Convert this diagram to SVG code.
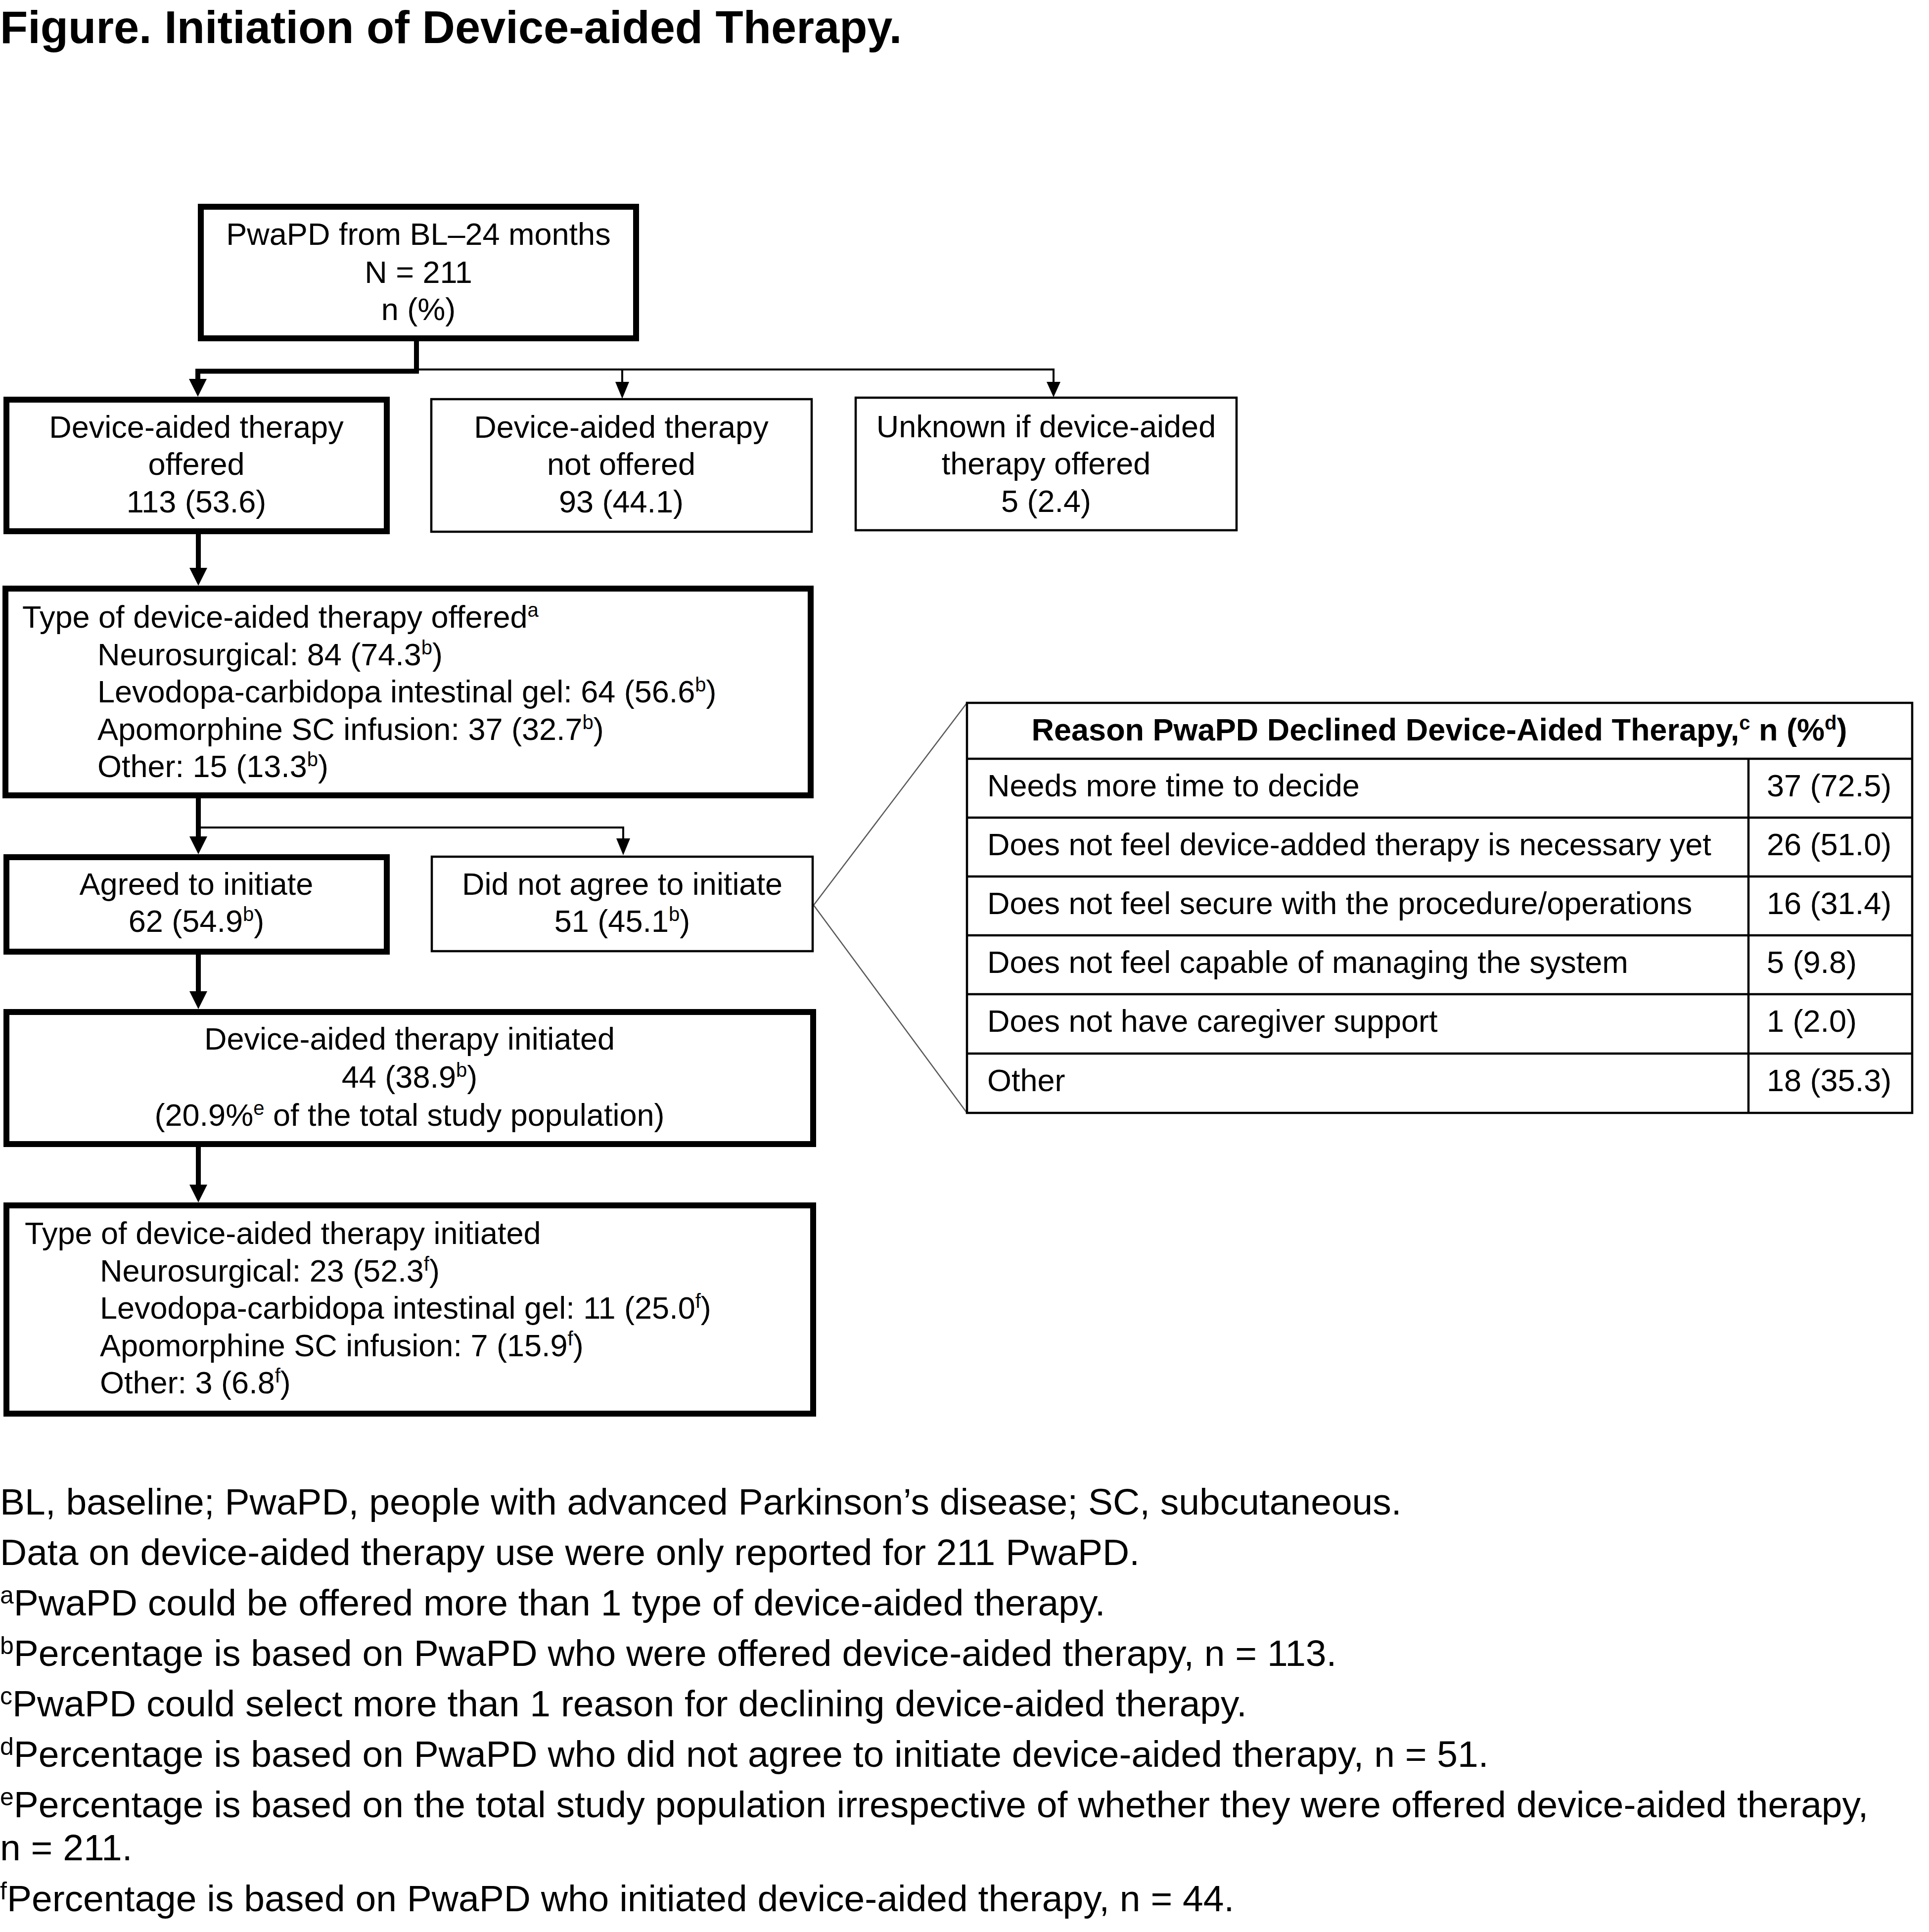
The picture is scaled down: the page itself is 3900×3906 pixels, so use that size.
<svg xmlns="http://www.w3.org/2000/svg" width="3900" height="3906" viewBox="0 0 3900 3906">
<style>
text { font-family: "Liberation Sans", Arial, sans-serif; fill: #000; }
.title { font-size: 92px; font-weight: bold; }
.t { font-size: 63px; }
.c { text-anchor: middle; }
.fn { font-size: 75px; }
.hb { font-size: 63px; font-weight: bold; }
.sup { font-size: 40px; }
.fsup { font-size: 50px; }
.thick { fill: #fff; stroke: #000; stroke-width: 12; }
.thin { fill: #fff; stroke: #000; stroke-width: 4.5; }
.cl { fill: none; stroke: #000; stroke-width: 10; }
.cln { fill: none; stroke: #000; stroke-width: 4; }
.ah { fill: #000; }
.call { fill: none; stroke: #595959; stroke-width: 2.5; }
.tbl { fill: none; stroke: #000; stroke-width: 4.5; }
</style>
<rect x="0" y="0" width="3900" height="3906" fill="#fff"/>

<text class="title" x="0" y="87">Figure. Initiation of Device-aided Therapy.</text>

<g id="connectors">
  <path class="call" d="M1645 1830 L1955 1421 M1645 1830 L1955 2250"/>
  <path class="cln" d="M842 747 H2130 V772 M1258 747 V772"/>
  <polygon class="ah" points="1244,772 1272,772 1258,806"/>
  <polygon class="ah" points="2116,772 2144,772 2130,803"/>
  <path class="cl" d="M842 690 V750.5 H400 V768"/>
  <polygon class="ah" points="382,766 418,766 400,802"/>
  <path class="cl" d="M401 1080 V1150"/>
  <polygon class="ah" points="383,1148 419,1148 401,1184"/>
  <path class="cln" d="M401 1673 H1260 V1696"/>
  <polygon class="ah" points="1246,1695 1274,1695 1260,1729"/>
  <path class="cl" d="M401 1614 V1693"/>
  <polygon class="ah" points="383,1691 419,1691 401,1727"/>
  <path class="cl" d="M401 1930 V2006"/>
  <polygon class="ah" points="383,2004 419,2004 401,2040"/>
  <path class="cl" d="M401 2319 V2397"/>
  <polygon class="ah" points="383,2395 419,2395 401,2431"/>
</g>

<g id="node-total">
  <rect class="thick" x="406" y="418" width="880" height="266"/>
  <text class="t c" x="846" y="495">PwaPD from BL–24 months</text>
  <text class="t c" x="846" y="572">N = 211</text>
  <text class="t c" x="846" y="647">n (%)</text>
</g>

<g id="node-offered">
  <rect class="thick" x="13" y="808" width="769" height="266"/>
  <text class="t c" x="397" y="885">Device-aided therapy</text>
  <text class="t c" x="397" y="960">offered</text>
  <text class="t c" x="397" y="1036">113 (53.6)</text>
</g>

<g id="node-not-offered">
  <rect class="thin" x="872" y="807" width="769" height="268"/>
  <text class="t c" x="1256" y="885">Device-aided therapy</text>
  <text class="t c" x="1256" y="960">not offered</text>
  <text class="t c" x="1256" y="1036">93 (44.1)</text>
</g>

<g id="node-unknown">
  <rect class="thin" x="1730" y="804" width="770" height="268"/>
  <text class="t c" x="2115" y="884">Unknown if device-aided</text>
  <text class="t c" x="2115" y="959">therapy offered</text>
  <text class="t c" x="2115" y="1035">5 (2.4)</text>
</g>

<g id="node-type-offered">
  <rect class="thick" x="11" y="1190" width="1628" height="418"/>
  <text class="t" x="45" y="1269">Type of device-aided therapy offered<tspan class="sup" dy="-22">a</tspan></text>
  <text class="t" x="197" y="1344.5">Neurosurgical: 84 (74.3<tspan class="sup" dy="-22">b</tspan><tspan dy="22">)</tspan></text>
  <text class="t" x="197" y="1420">Levodopa-carbidopa intestinal gel: 64 (56.6<tspan class="sup" dy="-22">b</tspan><tspan dy="22">)</tspan></text>
  <text class="t" x="197" y="1495.5">Apomorphine SC infusion: 37 (32.7<tspan class="sup" dy="-22">b</tspan><tspan dy="22">)</tspan></text>
  <text class="t" x="197" y="1571">Other: 15 (13.3<tspan class="sup" dy="-22">b</tspan><tspan dy="22">)</tspan></text>
</g>

<g id="node-agreed">
  <rect class="thick" x="13" y="1733" width="769" height="191"/>
  <text class="t c" x="397" y="1809">Agreed to initiate</text>
  <text class="t c" x="397" y="1884">62 (54.9<tspan class="sup" dy="-22">b</tspan><tspan dy="22">)</tspan></text>
</g>

<g id="node-not-agreed">
  <rect class="thin" x="873" y="1732" width="770" height="191"/>
  <text class="t c" x="1258" y="1809">Did not agree to initiate</text>
  <text class="t c" x="1258" y="1884">51 (45.1<tspan class="sup" dy="-22">b</tspan><tspan dy="22">)</tspan></text>
</g>

<g id="node-initiated">
  <rect class="thick" x="13" y="2046" width="1631" height="267"/>
  <text class="t c" x="828" y="2122">Device-aided therapy initiated</text>
  <text class="t c" x="828" y="2199">44 (38.9<tspan class="sup" dy="-22">b</tspan><tspan dy="22">)</tspan></text>
  <text class="t c" x="828" y="2276">(20.9%<tspan class="sup" dy="-22">e</tspan><tspan dy="22"> of the total study population)</tspan></text>
</g>

<g id="node-type-initiated">
  <rect class="thick" x="13" y="2437" width="1631" height="421"/>
  <text class="t" x="50" y="2515">Type of device-aided therapy initiated</text>
  <text class="t" x="202" y="2591">Neurosurgical: 23 (52.3<tspan class="sup" dy="-22">f</tspan><tspan dy="22">)</tspan></text>
  <text class="t" x="202" y="2666">Levodopa-carbidopa intestinal gel: 11 (25.0<tspan class="sup" dy="-22">f</tspan><tspan dy="22">)</tspan></text>
  <text class="t" x="202" y="2742">Apomorphine SC infusion: 7 (15.9<tspan class="sup" dy="-22">f</tspan><tspan dy="22">)</tspan></text>
  <text class="t" x="202" y="2817">Other: 3 (6.8<tspan class="sup" dy="-22">f</tspan><tspan dy="22">)</tspan></text>
</g>

<g id="node-reasons-table">
  <rect class="tbl" x="1955" y="1421" width="1911" height="829"/>
  <path class="tbl" d="M1955 1534 H3866 M1955 1653 H3866 M1955 1772 H3866 M1955 1891 H3866 M1955 2010 H3866 M1955 2130 H3866 M3535 1534 V2250"/>
  <text class="hb c" x="2910" y="1497">Reason PwaPD Declined Device-Aided Therapy,<tspan class="sup" dy="-22">c</tspan><tspan dy="22"> n (%</tspan><tspan class="sup" dy="-22">d</tspan><tspan dy="22">)</tspan></text>
  <text class="t" x="1996" y="1610">Needs more time to decide</text>
  <text class="t" x="3572" y="1610">37 (72.5)</text>
  <text class="t" x="1996" y="1729">Does not feel device-added therapy is necessary yet</text>
  <text class="t" x="3572" y="1729">26 (51.0)</text>
  <text class="t" x="1996" y="1848">Does not feel secure with the procedure/operations</text>
  <text class="t" x="3572" y="1848">16 (31.4)</text>
  <text class="t" x="1996" y="1967">Does not feel capable of managing the system</text>
  <text class="t" x="3572" y="1967">5 (9.8)</text>
  <text class="t" x="1996" y="2086">Does not have caregiver support</text>
  <text class="t" x="3572" y="2086">1 (2.0)</text>
  <text class="t" x="1996" y="2206">Other</text>
  <text class="t" x="3572" y="2206">18 (35.3)</text>
</g>

<g id="footnotes">
  <text class="fn" x="0" y="3062">BL, baseline; PwaPD, people with advanced Parkinson’s disease; SC, subcutaneous.</text>
  <text class="fn" x="0" y="3164">Data on device-aided therapy use were only reported for 211 PwaPD.</text>
  <text class="fn" x="0" y="3266"><tspan class="fsup" dy="-24">a</tspan><tspan dy="24">PwaPD could be offered more than 1 type of device-aided therapy.</tspan></text>
  <text class="fn" x="0" y="3368"><tspan class="fsup" dy="-24">b</tspan><tspan dy="24">Percentage is based on PwaPD who were offered device-aided therapy, n = 113.</tspan></text>
  <text class="fn" x="0" y="3470"><tspan class="fsup" dy="-24">c</tspan><tspan dy="24">PwaPD could select more than 1 reason for declining device-aided therapy.</tspan></text>
  <text class="fn" x="0" y="3572"><tspan class="fsup" dy="-24">d</tspan><tspan dy="24">Percentage is based on PwaPD who did not agree to initiate device-aided therapy, n = 51.</tspan></text>
  <text class="fn" x="0" y="3674"><tspan class="fsup" dy="-24">e</tspan><tspan dy="24">Percentage is based on the total study population irrespective of whether they were offered device-aided therapy,</tspan></text>
  <text class="fn" x="0" y="3761">n = 211.</text>
  <text class="fn" x="0" y="3864"><tspan class="fsup" dy="-24">f</tspan><tspan dy="24">Percentage is based on PwaPD who initiated device-aided therapy, n = 44.</tspan></text>
</g>
</svg>
